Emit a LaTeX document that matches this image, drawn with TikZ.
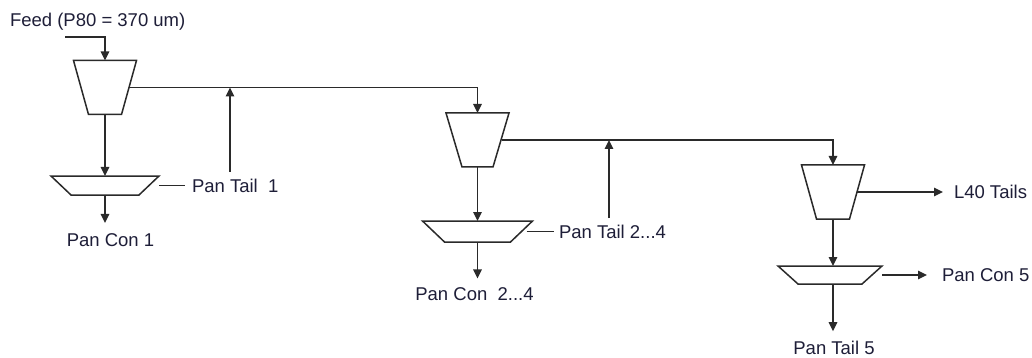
\documentclass[tikz,border=0pt]{standalone}
\usepackage{fontspec}
\setmainfont{Liberation Sans}
\usetikzlibrary{arrows.meta,calc}
\definecolor{ink}{HTML}{1E1E38}
\definecolor{wire}{HTML}{2A2A2A}

% outline of a separator unit: top edge full width, bottom edge inset by #2
\newcommand\trapz[2]{\draw[shell] (#1.north west) -- (#1.north east) -- ([xshift=-#2]#1.south east) -- ([xshift=#2]#1.south west) -- cycle;}

\begin{document}
\begin{tikzpicture}[x=1pt,y=-1pt,
  box/.style={draw=none, inner sep=0pt, outer sep=0pt},
  cyclone/.style={box, minimum width=63pt, minimum height=54pt},
  pan/.style={box, minimum width=108pt, minimum height=19pt},
  shell/.style={draw=wire, line width=1.5pt, line join=miter},
  flow/.style={draw=wire, line width=1.4pt, -{Triangle[length=9pt,width=8.5pt]}},
  plain/.style={draw=wire, line width=1.4pt},
  lbl/.style={text=ink, font=\fontsize{18.5}{22}\selectfont, inner sep=0pt, outer sep=0pt},
]
\fill[white] (0,0) rectangle (1032,358);
\useasboundingbox (0,0) rectangle (1032,358);

% units
\node[cyclone] (c1) at (105,87.5) {};
\node[pan] (p1) at (105,185.5) {};
\node[cyclone] (c2) at (477.5,140) {};
\node[pan, minimum width=110pt, minimum height=21pt] (p2) at (477.5,231.5) {};
\node[cyclone] (c3) at (833,192) {};
\node[pan, minimum width=104pt, minimum height=18pt] (p3) at (830,275) {};
\trapz{c1}{15pt}
\trapz{p1}{20pt}
\trapz{c2}{16pt}
\trapz{p2}{22pt}
\trapz{c3}{15pt}
\trapz{p3}{20pt}

% labels
\node[lbl, anchor=west] (feed) at (10,22) {Feed (P80 = 370 um)};
\node[lbl, anchor=west] (pt1) at (192,185.5) {Pan Tail\ \ 1};
\node[lbl] (pc1) at (110.5,240.5) {Pan Con 1};
\node[lbl, anchor=west] (pt2) at (559,231.5) {Pan Tail 2...4};
\node[lbl] (pc2) at (474.5,294) {Pan Con\ \ 2...4};
\node[lbl, anchor=west] (l40) at (954,192) {L40 Tails};
\node[lbl, anchor=west] (pc5) at (942,275) {Pan Con 5};
\node[lbl] (pt5) at (834,348) {Pan Tail 5};

% free ends
\coordinate (fin) at (65,37);
\coordinate (t1) at (230,172);
\coordinate (t2) at (609,218);

% streams
\draw[flow] (fin) -| (c1.north);
\draw[flow] ([xshift=-7.5pt]c1.east) -| (c2.north);
\draw[flow] (t1) -- (t1 |- c1.east);
\draw[flow] (c1.south) -- (p1.north);
\draw[plain, shorten >=7pt] (p1.east) -- (pt1.west);
\draw[flow, shorten >=11pt] (p1.south) -- (p1.south |- pc1.north);

\draw[flow] ([xshift=-7.5pt]c2.east) -| (c3.north);
\draw[flow] (t2) -- (t2 |- c2.east);
\draw[flow] (c2.south) -- (p2.north);
\draw[plain, shorten >=5pt] ([xshift=-6pt]p2.east) -- (pt2.west);
\draw[flow, shorten >=9pt] (p2.south) -- (p2.south |- pc2.north);

\draw[flow, shorten >=11pt] ([xshift=-7.5pt]c3.east) -- (l40.west);
\draw[flow] (c3.south) -- (c3.south |- p3.north);
\draw[flow, shorten >=15pt] (p3.east) -- (pc5.west);
\draw[flow, shorten >=10pt] (c3.south |- p3.south) -- (c3.south |- pt5.north);
\end{tikzpicture}
\end{document}
